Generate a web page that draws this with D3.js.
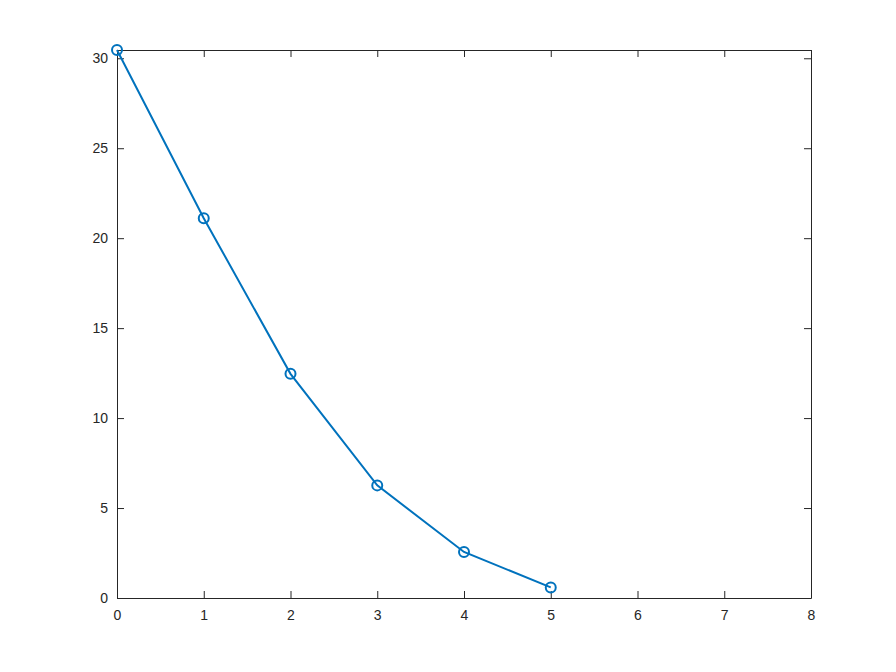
<!DOCTYPE html>
<html>
<head>
<meta charset="utf-8">
<script src="https://cdn.jsdelivr.net/npm/d3@7"></script>
<style>
  body { margin: 0; background: #fff; }
</style>
</head>
<body>
<div id="chart"></div>
<script>
// datos
const xValues = [0, 1, 2, 3, 4, 5];
const yValues = [30.46, 21.11, 12.46, 6.26, 2.56, 0.59];
const xTicks = [0, 1, 2, 3, 4, 5, 6, 7, 8];
const yTicks = [0, 5, 10, 15, 20, 25, 30];

const width = 896;
const height = 672;
const margin = { top: 50, right: 85, bottom: 74, left: 117 };
const axisColor = "#262626";
const lineColor = "#0072BD";

const svg = d3.select("#chart")
    .append("svg")
    .attr("width", width)
    .attr("height", height);

const x = d3.scaleLinear()
    .domain([0, 8])
    .range([margin.left, width - margin.right]);

const y = d3.scaleLinear()
    .domain([0, d3.max(yValues)])
    .range([height - margin.bottom, margin.top]);

// ejes (ticks hacia adentro, estilo matlab)
const xAxis = svg.append("g")
    .attr("transform", `translate(0,${height - margin.bottom})`)
    .call(d3.axisBottom(x).tickValues(xTicks).tickSizeInner(-7).tickSizeOuter(0).tickPadding(12));

const xTop = svg.append("g")
    .attr("transform", `translate(0,${margin.top})`)
    .call(d3.axisTop(x).tickValues(xTicks).tickSizeInner(-7).tickSizeOuter(0).tickFormat(""));

const yAxis = svg.append("g")
    .attr("transform", `translate(${margin.left},0)`)
    .call(d3.axisLeft(y).tickValues(yTicks).tickSizeInner(-7).tickSizeOuter(0).tickPadding(9));

const yRight = svg.append("g")
    .attr("transform", `translate(${width - margin.right},0)`)
    .call(d3.axisRight(y).tickValues(yTicks).tickSizeInner(-7).tickSizeOuter(0).tickFormat(""));

[xAxis, xTop, yAxis, yRight].forEach(g => {
    g.attr("font-size", 14).attr("font-family", "'Liberation Sans', Arial, sans-serif");
    g.select(".domain").attr("stroke", axisColor).attr("stroke-width", 1);
    g.selectAll(".tick line").attr("stroke", axisColor).attr("stroke-width", 1);
    g.selectAll(".tick text").attr("fill", axisColor);
});

const points = xValues.map((v, i) => ({ x: v, y: yValues[i] }));

const line = d3.line()
    .x(d => x(d.x))
    .y(d => y(d.y));

svg.append("path")
    .datum(points)
    .attr("fill", "none")
    .attr("stroke", lineColor)
    .attr("stroke-width", 2)
    .attr("d", line);

svg.selectAll("circle.marker")
    .data(points)
    .enter().append("circle")
    .attr("class", "marker")
    .attr("cx", d => x(d.x))
    .attr("cy", d => y(d.y))
    .attr("r", 5)
    .attr("fill", "none")
    .attr("stroke", lineColor)
    .attr("stroke-width", 2);
</script>
</body>
</html>
